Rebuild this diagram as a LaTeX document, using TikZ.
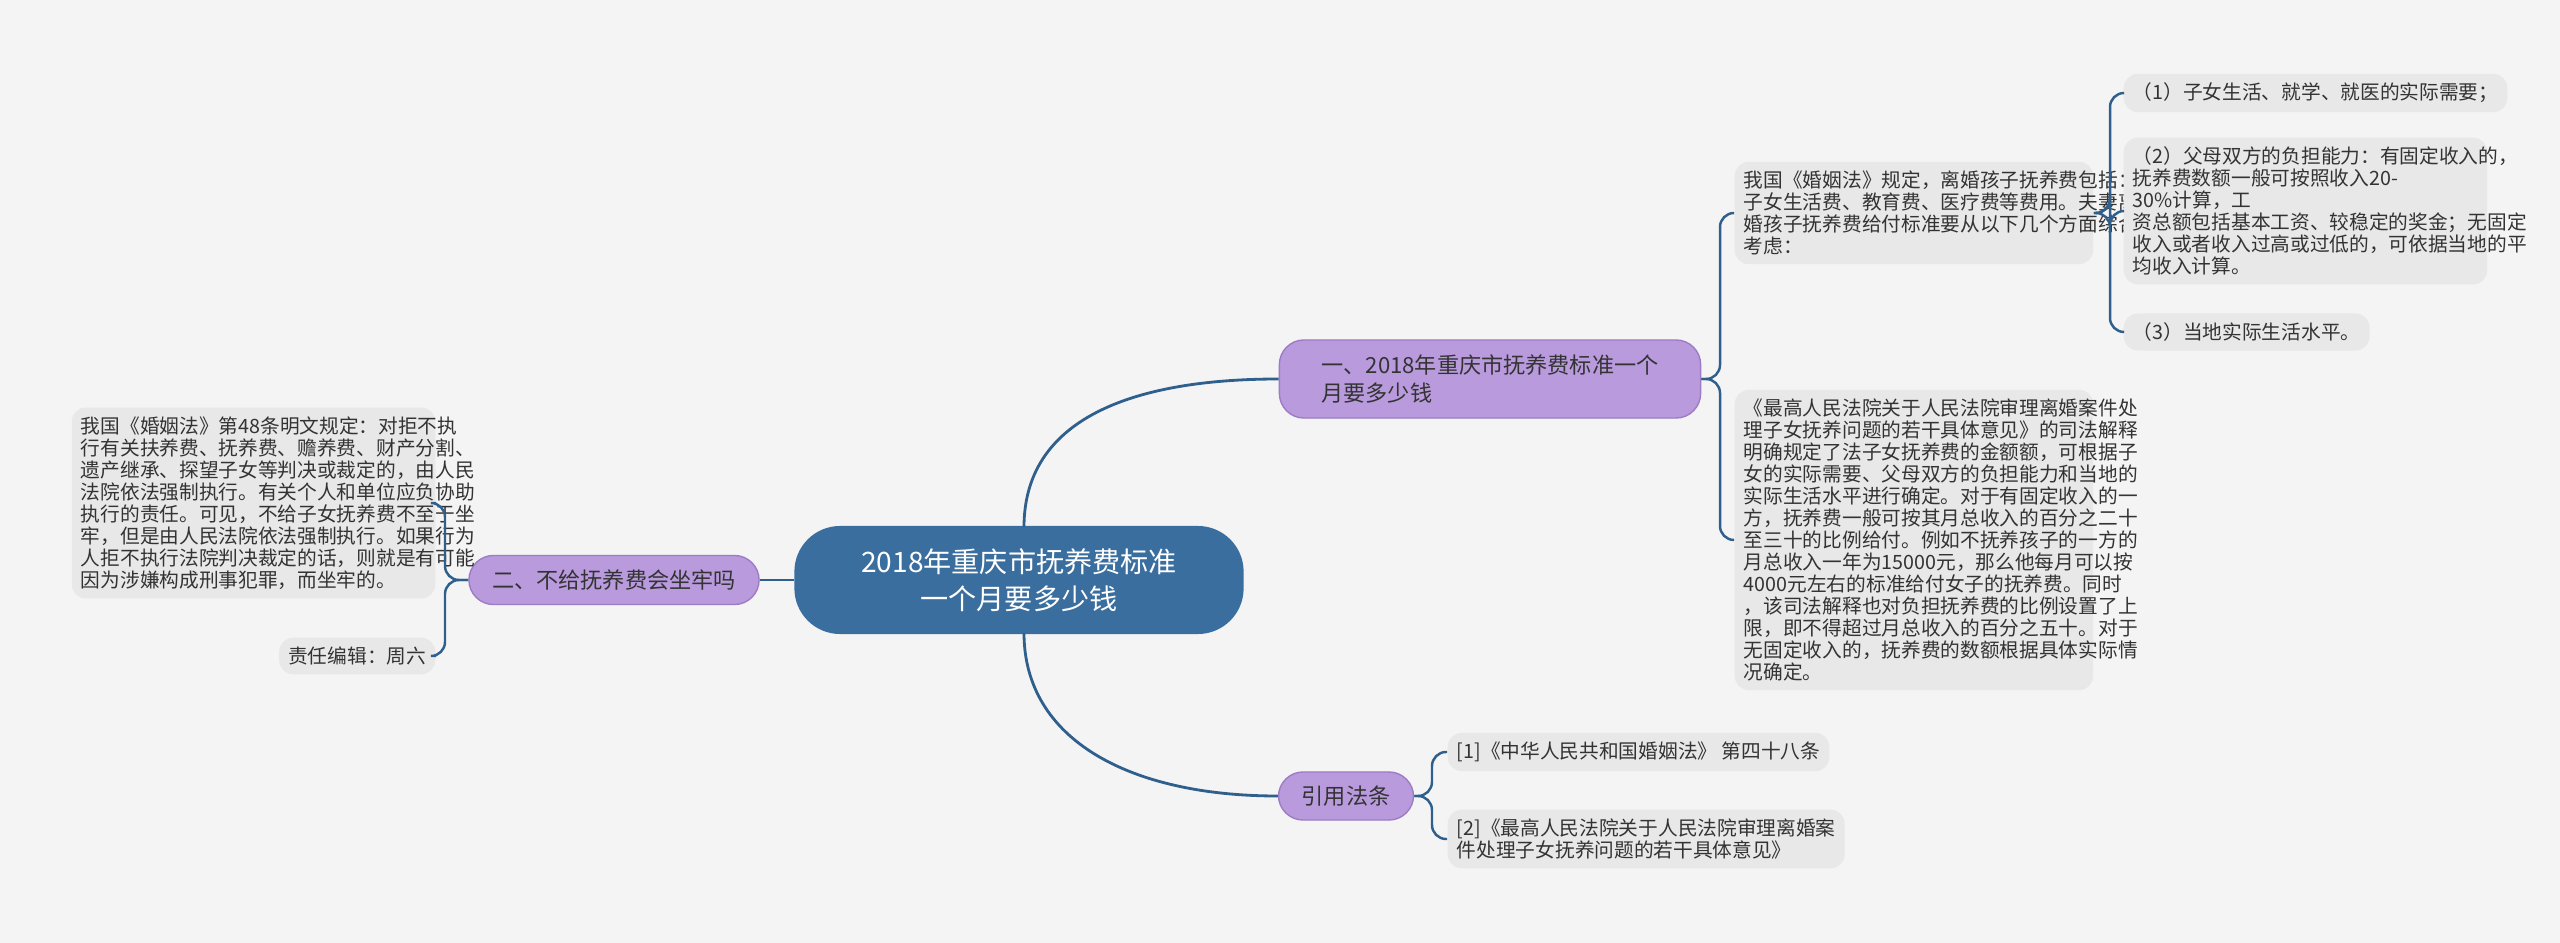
\documentclass[tikz,border=0pt]{standalone}
\usepackage{fontspec}
\setmainfont{Noto Sans CJK SC}
\definecolor{bg}{HTML}{F4F4F4}
\definecolor{leaf}{HTML}{E8E8E8}
\definecolor{edge}{HTML}{2F5F8C}
\definecolor{rootc}{HTML}{3A6E9E}
\definecolor{purp}{HTML}{B99BDD}
\definecolor{purpd}{HTML}{9C7CC4}
\definecolor{txt}{HTML}{333333}
\begin{document}
\begin{tikzpicture}[x=0.01cm,y=-0.01cm,
  leafbox/.style={fill=leaf,rounded corners=4pt,text=txt,align=left,inner sep=2.6pt,font=\fontsize{5.6pt}{6.25pt}\selectfont,anchor=west},
  branchbox/.style={fill=purp,draw=purpd,line width=0.4pt,rounded corners=7pt,text=txt,align=left,inner sep=3pt,font=\fontsize{6.3pt}{7.8pt}\selectfont},
  link/.style={draw=edge,line width=0.7pt,rounded corners=4pt},
  curve/.style={draw=edge,line width=0.8pt}]
\fill[bg] (0,0) rectangle (2560,943);
\node[fill=rootc,rounded corners=13pt,text=white,align=center,font=\fontsize{8pt}{10.5pt}\selectfont,minimum width=449\pgflinewidth,minimum width=12.75cm*0.01*100/100*0+4.49cm,minimum height=1.08cm] (root) at (1019,580) {2018年重庆市抚养费标准\\一个月要多少钱};
\node[branchbox,minimum width=4.21cm,minimum height=0.78cm] (b1) at (1490,379) {一、2018年重庆市抚养费标准一个\\月要多少钱};
\node[branchbox,align=center,minimum width=2.9cm,minimum height=0.49cm] (b2) at (614,580) {二、不给抚养费会坐牢吗};
\node[branchbox,align=center,minimum width=1.35cm,minimum height=0.48cm] (b3) at (1346,796) {引用法条};
% branch 1 leaves
\node[leafbox,text width=3.4cm] (l1a) at (1734,213) {我国《婚姻法》规定，离婚孩子抚养费包括：\\子女生活费、教育费、医疗费等费用。夫妻离\\婚孩子抚养费给付标准要从以下几个方面综合\\考虑：};
\node[leafbox,text width=3.4cm] (l1b) at (1734,540) {《最高人民法院关于人民法院审理离婚案件处\\理子女抚养问题的若干具体意见》的司法解释\\明确规定了法子女抚养费的金额额，可根据子\\女的实际需要、父母双方的负担能力和当地的\\实际生活水平进行确定。对于有固定收入的一\\方，抚养费一般可按其月总收入的百分之二十\\至三十的比例给付。例如不抚养孩子的一方的\\月总收入一年为15000元，那么他每月可以按\\4000元左右的标准给付女子的抚养费。同时\\，该司法解释也对负担抚养费的比例设置了上\\限，即不得超过月总收入的百分之五十。对于\\无固定收入的，抚养费的数额根据具体实际情\\况确定。};
\node[leafbox] (s1) at (2123,93) {（1）子女生活、就学、就医的实际需要；};
\node[leafbox,text width=3.45cm] (s2) at (2123,211) {（2）父母双方的负担能力：有固定收入的，\\抚养费数额一般可按照收入20-30\%计算，工\\资总额包括基本工资、较稳定的奖金；无固定\\收入或者收入过高或过低的，可依据当地的平\\均收入计算。};
\node[leafbox] (s3) at (2123,332) {（3）当地实际生活水平。};
% branch 2 leaves
\node[leafbox,anchor=east,text width=3.45cm] (l2a) at (436,503) {我国《婚姻法》第48条明文规定：对拒不执\\行有关扶养费、抚养费、赡养费、财产分割、\\遗产继承、探望子女等判决或裁定的，由人民\\法院依法强制执行。有关个人和单位应负协助\\执行的责任。可见，不给子女抚养费不至于坐\\牢，但是由人民法院依法强制执行。如果行为\\人拒不执行法院判决裁定的话，则就是有可能\\因为涉嫌构成刑事犯罪，而坐牢的。};
\node[leafbox,anchor=east] (l2b) at (436,656) {责任编辑：周六};
% refs
\node[leafbox] (r1) at (1447,752) {[1]《中华人民共和国婚姻法》 第四十八条};
\node[leafbox] (r2) at (1447,839) {[2]《最高人民法院关于人民法院审理离婚案\\件处理子女抚养问题的若干具体意见》};
% connectors
\draw[curve] (1024,527) .. controls (1024,420) and (1130,379) .. (b1.west);
\draw[curve] (1024,633) .. controls (1024,740) and (1130,796) .. (b3.west);
\draw[curve] (root.west) -- (b2.east);
\draw[link] (b1.east) -- (1720,379) |- (l1a.west);
\draw[link] (b1.east) -- (1720,379) |- (l1b.west);
\draw[link] (l1a.east) -- (2110,213) |- (s1.west);
\draw[link] (l1a.east) -- (2110,213) |- (s2.west);
\draw[link] (l1a.east) -- (2110,213) |- (s3.west);
\draw[link] (b2.west) -- (445,580) |- (l2a.east);
\draw[link] (b2.west) -- (445,580) |- (l2b.east);
\draw[link] (b3.east) -- (1432,796) |- (r1.west);
\draw[link] (b3.east) -- (1432,796) |- (r2.west);
\end{tikzpicture}
\end{document}
